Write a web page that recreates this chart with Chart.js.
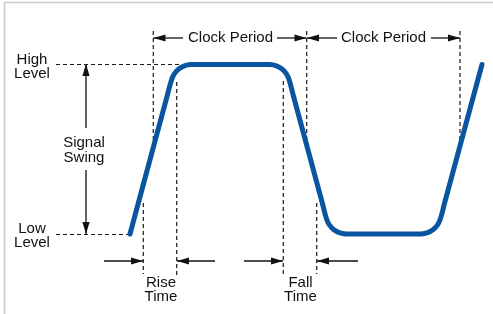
<!DOCTYPE html>
<html>
<head>
<meta charset="utf-8">
<script src="https://cdn.jsdelivr.net/npm/chart.js@4/dist/chart.umd.min.js"></script>
<style>
  html, body { margin: 0; padding: 0; background: #fff; }
  canvas { display: block; }
</style>
</head>
<body>
<canvas id="signalChart" width="493" height="314"></canvas>
<script>
// waveform points (x right, y downward)
const waveX = [130, 167, 171.5, 174.3, 179, 185, 191.7, 199,
  262, 269, 275.7, 281.7, 286.4, 289.2, 293.3,
  322.3, 326.4, 329.2, 333.9, 339.9, 346.6, 354,
  413, 420.3, 427, 433, 437.7, 440.5, 444.6, 482];
const waveY = [234, 96.5, 80, 73.8, 68.8, 65.6, 64.5, 64.5,
  64.5, 64.5, 65.6, 68.8, 73.8, 80, 95.5,
  203, 218.5, 224.7, 229.7, 232.9, 234, 234,
  234, 234, 232.9, 229.7, 224.7, 218.5, 203, 64.5];

// dashed guide lines: [x1, y1, x2, y2]
const highGuide = [56, 64.5, 180, 64.5];
const lowGuide = [56, 234.5, 128, 234.5];
const clockGuide1 = [153.3, 31, 153.3, 146];
const clockGuide2 = [306.7, 31, 306.7, 146];
const clockGuide3 = [460, 31, 460, 146];
const riseStartGuide = [143.3, 203, 143.3, 274];
const riseEndGuide = [176.7, 82, 176.7, 277];
const fallStartGuide = [283.3, 81, 283.3, 277];
const fallEndGuide = [316.7, 203, 316.7, 274];

// arrows: shaft from (x1,y1) to tip (x2,y2)
const arrows = [
  [183, 38, 153.5, 38],
  [277, 38, 306.5, 38],
  [337, 38, 307, 38],
  [431, 38, 460, 38],
  [86, 128, 86, 64],
  [86, 170, 86, 234],
  [104, 261, 143, 261],
  [215, 261, 177, 261],
  [244, 261, 283, 261],
  [358, 261, 317, 261]
];

const labelText = ["Clock Period", "Clock Period", "High", "Level", "Signal", "Swing", "Low", "Level", "Rise", "Time", "Fall", "Time"];
const labelX = [230.5, 383.5, 32, 32, 84, 84, 32, 32, 161, 161, 300.5, 300.5];
const labelY = [38, 38, 60, 74, 143, 158, 228.5, 243, 283, 297, 282.5, 297];

const toPts = (xs, ys) => xs.map((x, i) => ({ x: x, y: ys[i] }));
const seg = s => [{ x: s[0], y: s[1] }, { x: s[2], y: s[3] }];

const guides = [highGuide, lowGuide, clockGuide1, clockGuide2, clockGuide3,
  riseStartGuide, riseEndGuide, fallStartGuide, fallEndGuide];

const datasets = [{
  data: toPts(waveX, waveY),
  showLine: true,
  borderColor: '#0a559f',
  borderWidth: 5,
  tension: 0.4,
  pointRadius: 0,
  borderCapStyle: 'round',
  borderJoinStyle: 'round'
}];
guides.forEach(g => {
  datasets.push({
    data: seg(g),
    showLine: true,
    borderColor: '#1a1a1a',
    borderWidth: 1.2,
    borderDash: [4, 3],
    pointRadius: 0
  });
});
arrows.forEach(a => {
  datasets.push({
    data: seg(a),
    showLine: true,
    borderColor: '#111',
    borderWidth: 1.3,
    pointRadius: 0
  });
});

const framePlugin = {
  id: 'frame',
  beforeDraw(chart) {
    const ctx = chart.ctx;
    ctx.save();
    ctx.strokeStyle = '#c9c9c9';
    ctx.lineWidth = 1.6;
    ctx.beginPath();
    ctx.moveTo(4.5, 314);
    ctx.lineTo(4.5, 2.5);
    ctx.lineTo(493, 2.5);
    ctx.stroke();
    ctx.restore();
  }
};

const annotatePlugin = {
  id: 'annotate',
  afterDatasetsDraw(chart) {
    const ctx = chart.ctx;
    const xs = chart.scales.x, ys = chart.scales.y;
    ctx.save();
    ctx.fillStyle = '#111';
    arrows.forEach(a => {
      const x1 = xs.getPixelForValue(a[0]), y1 = ys.getPixelForValue(a[1]);
      const x2 = xs.getPixelForValue(a[2]), y2 = ys.getPixelForValue(a[3]);
      const ang = Math.atan2(y2 - y1, x2 - x1);
      const len = 12, hw = 3.6;
      const bx = x2 - len * Math.cos(ang), by = y2 - len * Math.sin(ang);
      ctx.beginPath();
      ctx.moveTo(x2, y2);
      ctx.lineTo(bx - hw * Math.sin(ang), by + hw * Math.cos(ang));
      ctx.lineTo(bx + hw * Math.sin(ang), by - hw * Math.cos(ang));
      ctx.closePath();
      ctx.fill();
    });

    ctx.font = '15px "Liberation Sans", Arial, sans-serif';
    ctx.textAlign = 'center';
    ctx.textBaseline = 'middle';
    labelText.forEach((t, i) => {
      const px = xs.getPixelForValue(labelX[i]);
      const py = ys.getPixelForValue(labelY[i]);
      if (i < 2) {
        const w = ctx.measureText(t).width;
        ctx.fillStyle = '#fff';
        ctx.fillRect(px - w / 2 - 3, py - 8, w + 6, 16);
        ctx.fillStyle = '#111';
      }
      ctx.fillText(t, px, py);
    });
    ctx.restore();
  }
};

const ctx = document.getElementById('signalChart').getContext('2d');
const chart = new Chart(ctx, {
  type: 'scatter',
  data: { datasets: datasets },
  options: {
    responsive: false,
    animation: false,
    layout: { padding: 0, autoPadding: false },
    plugins: {
      legend: { display: false },
      tooltip: { enabled: false }
    },
    scales: {
      x: { type: 'linear', min: 0, max: 493, display: false },
      y: { type: 'linear', min: 0, max: 314, reverse: true, display: false }
    }
  },
  plugins: [framePlugin, annotatePlugin]
});
</script>
</body>
</html>
